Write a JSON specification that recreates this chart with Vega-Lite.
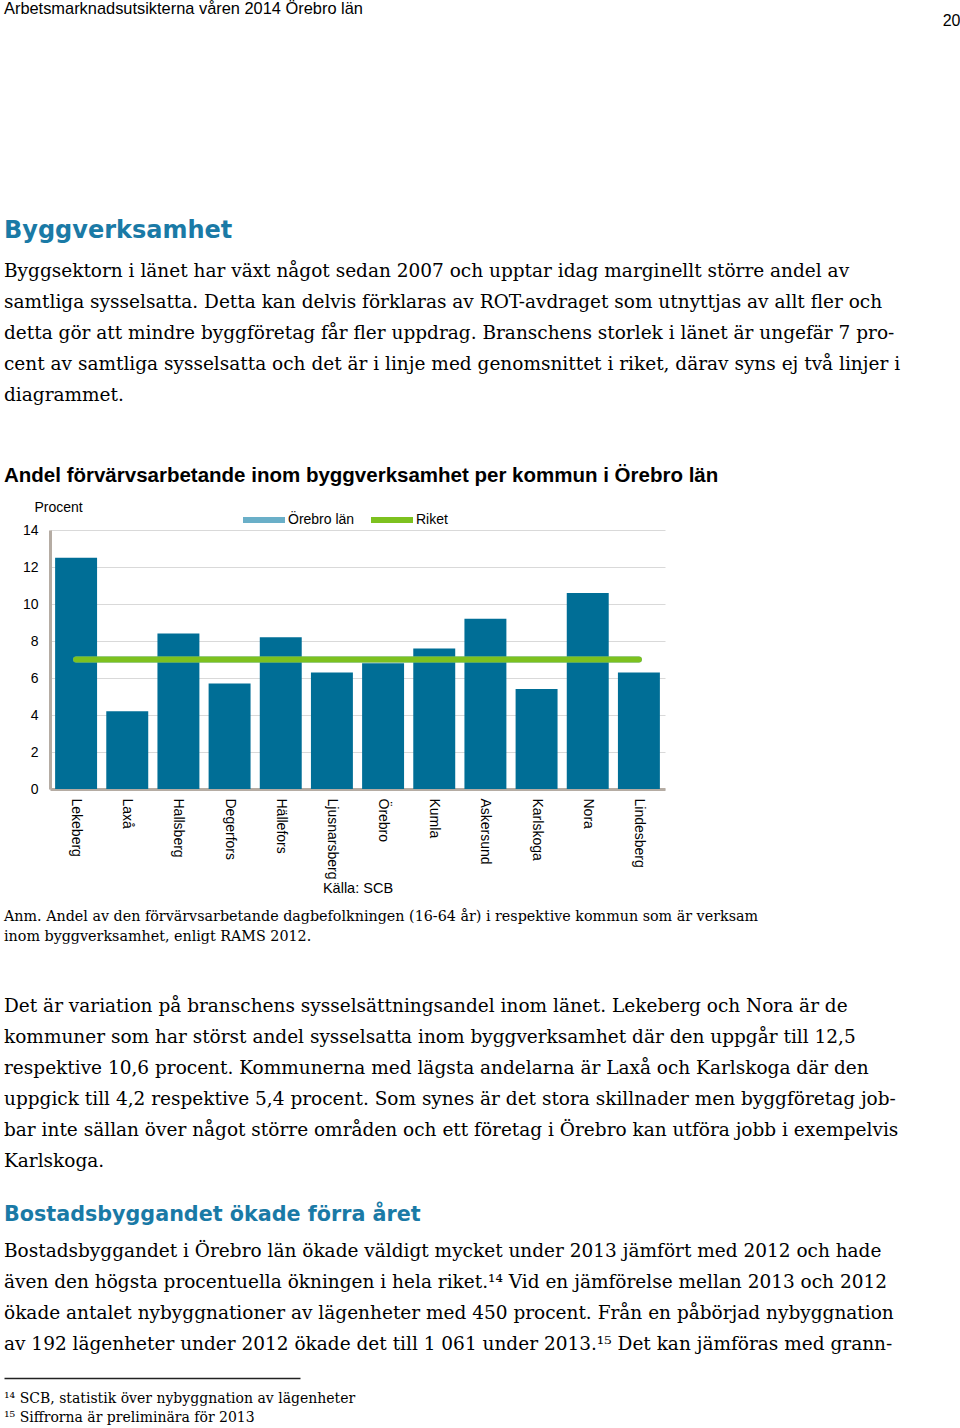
{
  "$schema": "https://vega.github.io/schema/vega-lite/v6.json",
  "background": "white",
  "padding": {"left": 4, "top": 0, "right": 0, "bottom": 0},
  "spacing": 14,
  "resolve": {"scale": {"color": "independent"}, "legend": {"color": "independent"}},
  "datasets": {
    "bars": [
      {"kommun": "Lekeberg", "andel": 12.5},
      {"kommun": "Laxå", "andel": 4.2},
      {"kommun": "Hallsberg", "andel": 8.4},
      {"kommun": "Degerfors", "andel": 5.7},
      {"kommun": "Hällefors", "andel": 8.2},
      {"kommun": "Ljusnarsberg", "andel": 6.3},
      {"kommun": "Örebro", "andel": 6.8},
      {"kommun": "Kumla", "andel": 7.6},
      {"kommun": "Askersund", "andel": 9.2},
      {"kommun": "Karlskoga", "andel": 5.4},
      {"kommun": "Nora", "andel": 10.6},
      {"kommun": "Lindesberg", "andel": 6.3}
    ],
    "linjer": [
      {"kommun": "Lekeberg", "serie": "Örebro län", "andel": 7.0},
      {"kommun": "Laxå", "serie": "Örebro län", "andel": 7.0},
      {"kommun": "Hallsberg", "serie": "Örebro län", "andel": 7.0},
      {"kommun": "Degerfors", "serie": "Örebro län", "andel": 7.0},
      {"kommun": "Hällefors", "serie": "Örebro län", "andel": 7.0},
      {"kommun": "Ljusnarsberg", "serie": "Örebro län", "andel": 7.0},
      {"kommun": "Örebro", "serie": "Örebro län", "andel": 7.0},
      {"kommun": "Kumla", "serie": "Örebro län", "andel": 7.0},
      {"kommun": "Askersund", "serie": "Örebro län", "andel": 7.0},
      {"kommun": "Karlskoga", "serie": "Örebro län", "andel": 7.0},
      {"kommun": "Nora", "serie": "Örebro län", "andel": 7.0},
      {"kommun": "Lindesberg", "serie": "Örebro län", "andel": 7.0},
      {"kommun": "Lekeberg", "serie": "Riket", "andel": 7.0},
      {"kommun": "Laxå", "serie": "Riket", "andel": 7.0},
      {"kommun": "Hallsberg", "serie": "Riket", "andel": 7.0},
      {"kommun": "Degerfors", "serie": "Riket", "andel": 7.0},
      {"kommun": "Hällefors", "serie": "Riket", "andel": 7.0},
      {"kommun": "Ljusnarsberg", "serie": "Riket", "andel": 7.0},
      {"kommun": "Örebro", "serie": "Riket", "andel": 7.0},
      {"kommun": "Kumla", "serie": "Riket", "andel": 7.0},
      {"kommun": "Askersund", "serie": "Riket", "andel": 7.0},
      {"kommun": "Karlskoga", "serie": "Riket", "andel": 7.0},
      {"kommun": "Nora", "serie": "Riket", "andel": 7.0},
      {"kommun": "Lindesberg", "serie": "Riket", "andel": 7.0}
    ]
  },
  "vconcat": [
    {
      "width": 910, "height": 175.6,
      "data": {"values": []},
      "mark": "tick",
      "encoding": {
        "x": {"field": "v", "type": "quantitative", "scale": {"domain": [0, 1]}, "axis": {"orient": "top", "title": "20", "titleAnchor": "end", "titleAlign": "right", "titleFont": "Liberation Sans", "titleFontSize": 16, "titleFontWeight": "normal", "titleColor": "#000000", "titlePadding": 0, "labels": false, "ticks": false, "domain": false, "grid": false}}
      },
      "title": {"text": "Arbetsmarknadsutsikterna våren 2014 Örebro län", "anchor": "start", "frame": "group", "dx": -46, "baseline": "top", "offset": -5, "font": "Liberation Sans", "fontSize": 16.4, "fontWeight": "normal", "color": "#000000"}
    },
    {
      "width": 910, "height": 1,
      "data": {"values": []},
      "mark": "text",
      "title": {
        "text": "Byggverksamhet",
        "subtitle": [
          "Byggsektorn i länet har växt något sedan 2007 och upptar idag marginellt större andel av",
          "samtliga sysselsatta. Detta kan delvis förklaras av ROT-avdraget som utnyttjas av allt fler och",
          "detta gör att mindre byggföretag får fler uppdrag. Branschens storlek i länet är ungefär 7 pro-",
          "cent av samtliga sysselsatta och det är i linje med genomsnittet i riket, därav syns ej två linjer i",
          "diagrammet."
        ],
        "anchor": "start", "frame": "group", "dx": -46, "baseline": "top", "offset": 45.4,
        "font": "DejaVu Sans", "fontSize": 24, "fontWeight": "bold", "color": "#1a7aa6",
        "subtitleFont": "DejaVu Serif", "subtitleFontSize": 18.5, "subtitleColor": "#000000", "subtitleLineHeight": 31, "subtitlePadding": 19.5
      }
    },
    {
      "width": 615, "height": 259,
      "title": {"text": "Andel förvärvsarbetande inom byggverksamhet per kommun i Örebro län", "anchor": "start", "frame": "group", "dx": -46, "baseline": "top", "offset": 10, "font": "Liberation Sans", "fontSize": 20.5, "fontWeight": "bold", "color": "#000000"},
      "encoding": {
        "x": {
          "field": "kommun", "type": "nominal", "sort": null,
          "scale": {"paddingInner": 0.18, "paddingOuter": 0.1},
          "axis": {"title": "Källa: SCB", "titleFont": "Liberation Sans", "titleFontSize": 14.5, "titleFontWeight": "normal", "titleColor": "#000000", "titlePadding": 3, "labelAngle": 90, "labelFont": "Liberation Sans", "labelFontSize": 14, "labelColor": "#000000", "labelPadding": 9, "ticks": false, "domainColor": "#b5aca3", "domainWidth": 3}
        },
        "y": {
          "field": "andel", "type": "quantitative",
          "scale": {"domain": [0, 14], "nice": false},
          "axis": {"values": [0, 2, 4, 6, 8, 10, 12, 14], "labelOverlap": false, "title": "Procent", "titleAngle": 0, "titleAlign": "left", "titleBaseline": "middle", "titleX": -16, "titleY": -23, "titleFont": "Liberation Sans", "titleFontSize": 14, "titleFontWeight": "normal", "titleColor": "#000000", "labelFont": "Liberation Sans", "labelFontSize": 14, "labelColor": "#000000", "labelPadding": 12, "ticks": false, "domainColor": "#b5aca3", "domainWidth": 3, "grid": true, "gridColor": "#d9d9d9", "gridWidth": 1}
        }
      },
      "layer": [
        {
          "data": {"name": "bars"},
          "mark": {"type": "bar", "color": "#006e96"}
        },
        {
          "data": {"name": "linjer"},
          "mark": {"type": "line", "strokeWidth": 6, "strokeCap": "round"},
          "encoding": {
            "color": {
              "field": "serie", "type": "nominal",
              "scale": {"domain": ["Örebro län", "Riket"], "range": ["#6aafc8", "#7dc11f"]},
              "legend": {"orient": "none", "legendX": 190, "legendY": -34, "direction": "horizontal", "title": null, "labelFont": "Liberation Sans", "labelFontSize": 14, "labelColor": "#000000", "symbolType": "stroke", "symbolSize": 1764, "symbolStrokeWidth": 6, "labelOffset": 0, "columnPadding": 4, "padding": 0}
            }
          }
        }
      ]
    },
    {
      "width": 910, "height": 1,
      "data": {"values": []},
      "mark": "text",
      "title": {
        "text": [
          "Anm. Andel av den förvärvsarbetande dagbefolkningen (16-64 år) i respektive kommun som är verksam",
          "inom byggverksamhet, enligt RAMS 2012."
        ],
        "subtitle": [
          "Det är variation på branschens sysselsättningsandel inom länet. Lekeberg och Nora är de",
          "kommuner som har störst andel sysselsatta inom byggverksamhet där den uppgår till 12,5",
          "respektive 10,6 procent. Kommunerna med lägsta andelarna är Laxå och Karlskoga där den",
          "uppgick till 4,2 respektive 5,4 procent. Som synes är det stora skillnader men byggföretag job-",
          "bar inte sällan över något större områden och ett företag i Örebro kan utföra jobb i exempelvis",
          "Karlskoga."
        ],
        "anchor": "start", "frame": "group", "dx": -46, "baseline": "top", "offset": 18.45,
        "font": "DejaVu Serif", "fontSize": 14.3, "fontWeight": "normal", "color": "#000000", "lineHeight": 20,
        "subtitleFont": "DejaVu Serif", "subtitleFontSize": 18.5, "subtitleColor": "#000000", "subtitleLineHeight": 31, "subtitlePadding": 52.3
      }
    },
    {
      "width": 910, "height": 1,
      "data": {"values": []},
      "mark": "text",
      "title": {
        "text": "Bostadsbyggandet ökade förra året",
        "subtitle": [
          "Bostadsbyggandet i Örebro län ökade väldigt mycket under 2013 jämfört med 2012 och hade",
          "även den högsta procentuella ökningen i hela riket.¹⁴ Vid en jämförelse mellan 2013 och 2012",
          "ökade antalet nybyggnationer av lägenheter med 450 procent. Från en påbörjad nybyggnation",
          "av 192 lägenheter under 2012 ökade det till 1 061 under 2013.¹⁵ Det kan jämföras med grann-"
        ],
        "anchor": "start", "frame": "group", "dx": -46, "baseline": "top", "offset": 8.45,
        "font": "DejaVu Sans", "fontSize": 20.7, "fontWeight": "bold", "color": "#1a7aa6",
        "subtitleFont": "DejaVu Serif", "subtitleFontSize": 18.5, "subtitleColor": "#000000", "subtitleLineHeight": 31, "subtitlePadding": 16
      }
    },
    {
      "width": 250, "height": 1,
      "data": {"values": []},
      "mark": "tick",
      "encoding": {
        "x": {"field": "v", "type": "quantitative", "scale": {"domain": [0, 1], "range": [-46, 250]}, "axis": {"orient": "top", "title": null, "labels": false, "ticks": false, "grid": false, "domain": true, "domainColor": "#222222", "domainWidth": 1.3}}
      },
      "title": {
        "text": [
          "¹⁴ SCB, statistik över nybyggnation av lägenheter",
          "¹⁵ Siffrorna är preliminära för 2013"
        ],
        "orient": "bottom", "anchor": "start", "frame": "group", "dx": -46, "baseline": "top", "offset": 12.6,
        "font": "DejaVu Serif", "fontSize": 14, "fontWeight": "normal", "color": "#000000", "lineHeight": 19
      }
    }
  ],
  "config": {
    "view": {"stroke": null}
  }
}
